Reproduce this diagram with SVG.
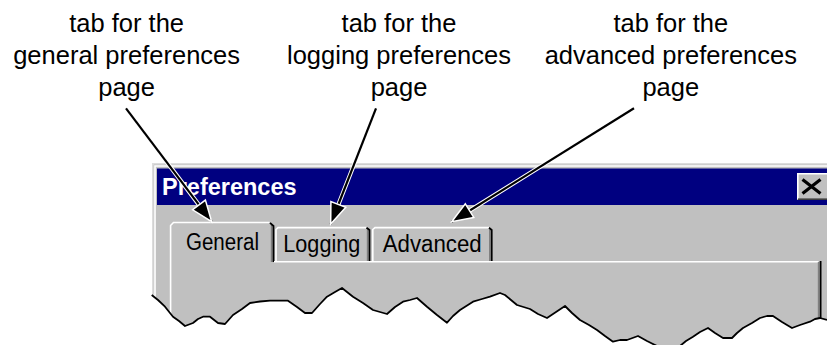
<svg xmlns="http://www.w3.org/2000/svg" width="827" height="345" viewBox="0 0 827 345">
<style>
.ann{font-family:"Liberation Sans",Arial,sans-serif;font-size:25.5px;fill:#000;text-anchor:middle}
.tab{font-family:"Liberation Sans",Arial,sans-serif;font-size:23px;fill:#000}
.ttl{font-family:"Liberation Sans",Arial,sans-serif;font-size:23.5px;font-weight:bold;fill:#fff}
.hi{stroke:#fff;stroke-width:1.6;fill:none}
.lg{stroke:#dcdcdc;stroke-width:1.6;fill:none}
.sh{stroke:#808080;stroke-width:1.6;fill:none}
.dk{stroke:#000;stroke-width:1.8;fill:none}
.halo{stroke:#fff;stroke-width:4.2;fill:none;stroke-linecap:round}
.arr{stroke:#000;stroke-width:2.2;fill:none;marker-end:url(#ah)}
</style>
<defs>
<marker id="ah" markerUnits="userSpaceOnUse" viewBox="-2 -2 26 20" markerWidth="26" markerHeight="20" refX="21" refY="8" orient="auto">
<path d="M0,0 L21,8 L0,16 Z" fill="#000" stroke="#fff" stroke-width="1.5" stroke-linejoin="miter"/>
</marker>
</defs>
<rect width="827" height="345" fill="#fff"/>

<g id="window">
<rect x="152" y="163" width="680" height="190" fill="#c0c0c0"/>
<path class="lg" d="M152.8,300 V163.8 H827"/>
<path class="hi" d="M155,300 V166 H827"/>
<rect x="157" y="168.5" width="670" height="36.5" fill="#000080"/>
<text class="ttl" x="162" y="195">Preferences</text>
<g id="close-button">
<rect x="797" y="173" width="32" height="27" fill="#c0c0c0"/>
<path class="hi" d="M797.8,199 V173.8 H827"/>
<path d="M798,199.2 H827" stroke="#404040" stroke-width="1.6"/>
<path d="M802.5,179.5 L820.5,193.5 M820.5,179.5 L802.5,193.5" stroke="#000" stroke-width="3.2"/>
</g>
</g>

<g id="tab-general">
<path class="hi" d="M170.6,330 V225.5 L173.5,222.5 H269.5"/>
<path class="sh" d="M271.6,225 V262"/>
<path class="dk" d="M270,222.8 L273.5,226 V262"/>
<text class="tab" x="186" y="249.5" textLength="73" lengthAdjust="spacingAndGlyphs">General</text>
</g>
<g id="tab-logging">
<path class="hi" d="M276,261 V229.5 L278,227.6 H366.5"/>
<path class="sh" d="M367.6,229.5 V261"/>
<path class="dk" d="M366.5,227.8 L369.5,230 V261"/>
<text class="tab" x="283.3" y="252" textLength="77" lengthAdjust="spacingAndGlyphs">Logging</text>
</g>
<g id="tab-advanced">
<path class="hi" d="M372.8,261 V229.5 L375,227.6 H489"/>
<path class="sh" d="M489.8,229.5 V261"/>
<path class="dk" d="M489,227.8 L491.7,230 V261"/>
<text class="tab" x="382.7" y="252" textLength="99" lengthAdjust="spacingAndGlyphs">Advanced</text>
</g>
<g id="page">
<path class="hi" d="M274,261.8 H818.5"/>
<path class="sh" d="M818.6,262 V330"/>
<path class="dk" d="M820.6,261 V330"/>
</g>

<g id="torn-edge">
<polygon fill="#fff" stroke="none" points="140,345 140,290 151.7,295 158,300 165,306.7 173,316.7 179,321 185,326 193,323 198,319 203,316.7 210,316.7 218,323 225,324 233,315 242,309 250,303 260,301.5 270,300.7 288,300.7 297,307 305,313 312,313 320,304 327,296.7 335,292 342,288 347,292 353,296.7 363,303 373,310 387,314 395,307 403,301.7 410,300 417,298 427,306.7 437,315 447,322.7 453,316 460,310 473,301.7 482,299 490,296.7 500,293 505,295 511,300 517,305 530,309 538,314 547,318 556,312 565,306 572,313 580,320 589,325 597,330 605,336 613,341.7 620,340 627,340 638,336 647,341 657,346 680,346 686,341 693,336.7 700,332 708,328 715,333 723,338 732,338 737,333 743,328 752,323 760,318 767,316 773,316 782,322 792,328 800,325 810,321.7 815,319 820,318 827,320 835,320 835,345"/>
<polyline fill="none" stroke="#000" stroke-width="1.8" stroke-linejoin="round" points="151.7,295 158,300 165,306.7 173,316.7 179,321 185,326 193,323 198,319 203,316.7 210,316.7 218,323 225,324 233,315 242,309 250,303 260,301.5 270,300.7 288,300.7 297,307 305,313 312,313 320,304 327,296.7 335,292 342,288 347,292 353,296.7 363,303 373,310 387,314 395,307 403,301.7 410,300 417,298 427,306.7 437,315 447,322.7 453,316 460,310 473,301.7 482,299 490,296.7 500,293 505,295 511,300 517,305 530,309 538,314 547,318 556,312 565,306 572,313 580,320 589,325 597,330 605,336 613,341.7 620,340 627,340 638,336 647,341 657,346 680,346 686,341 693,336.7 700,332 708,328 715,333 723,338 732,338 737,333 743,328 752,323 760,318 767,316 773,316 782,322 792,328 800,325 810,321.7 815,319 820,318 827,320"/>
</g>

<g id="labels">
<g id="label-general">
<text class="ann" x="126.6" y="31.5">tab for the</text>
<text class="ann" x="126.6" y="63.8">general preferences</text>
<text class="ann" x="126.6" y="96">page</text>
</g>
<g id="label-logging">
<text class="ann" x="399" y="31.5">tab for the</text>
<text class="ann" x="399" y="63.8">logging preferences</text>
<text class="ann" x="399" y="96">page</text>
</g>
<g id="label-advanced">
<text class="ann" x="670.8" y="31.5">tab for the</text>
<text class="ann" x="670.8" y="63.8">advanced preferences</text>
<text class="ann" x="670.8" y="96">page</text>
</g>
</g>

<g id="connectors">
<line class="halo" x1="145" y1="133" x2="199" y2="205"/>
<line class="halo" x1="366" y1="134" x2="338.4" y2="204.4"/>
<line class="halo" x1="600" y1="129.5" x2="469.5" y2="210.6"/>
<line class="arr" x1="126" y1="108.3" x2="211.7" y2="221.7"/>
<line class="arr" x1="376" y1="108.3" x2="330.7" y2="224"/>
<line class="arr" x1="634" y1="108.3" x2="451.7" y2="221.7"/>
</g>
</svg>
